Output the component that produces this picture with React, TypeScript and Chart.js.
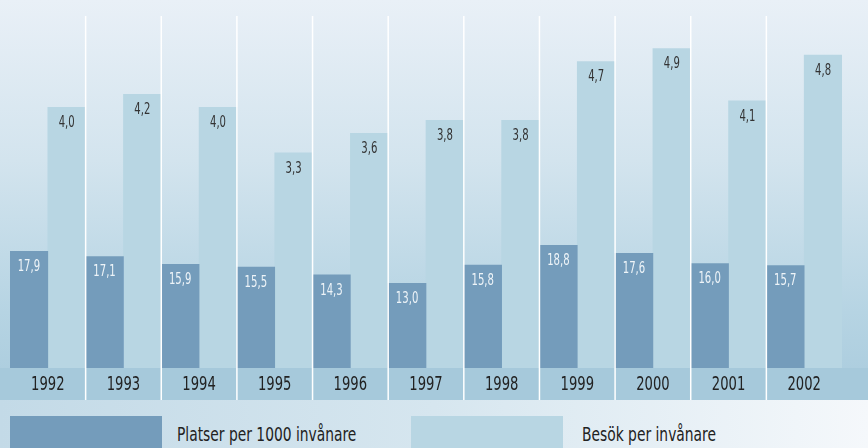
import React, { useEffect, useRef } from "react";
import { Chart, registerables } from "chart.js";

Chart.register(...registerables);

const years = ["1992", "1993", "1994", "1995", "1996", "1997", "1998", "1999", "2000", "2001", "2002"];
const platser = [17.9, 17.1, 15.9, 15.5, 14.3, 13.0, 15.8, 18.8, 17.6, 16.0, 15.7];
const besok = [4.0, 4.2, 4.0, 3.3, 3.6, 3.8, 3.8, 4.7, 4.9, 4.1, 4.8];
const seriesNames = ["Platser per 1000 invånare", "Besök per invånare"];

const FONT = "'DejaVu Sans Condensed', 'Liberation Sans Narrow', 'DejaVu Sans', sans-serif";
const DARK = "#749cbb";
const LIGHT = "#b8d6e3";
const BAND = "#a6c9db";
const BAND_H = 32;

function squeezedText(ctx: CanvasRenderingContext2D, text: string, x: number, y: number, sx: number) {
  ctx.save();
  ctx.translate(x, y);
  ctx.scale(sx, 1);
  ctx.fillText(text, 0, 0);
  ctx.restore();
}

const bandPlugin = {
  id: "band",
  beforeDraw(chart: any) {
    const { ctx, chartArea } = chart;
    ctx.save();
    ctx.fillStyle = BAND;
    ctx.fillRect(0, chartArea.bottom, chart.width, BAND_H);
    ctx.restore();
  },
  afterDatasetsDraw(chart: any) {
    const { ctx, chartArea } = chart;
    const x = chart.scales.x;
    ctx.save();
    // category separators
    ctx.strokeStyle = "#ffffff";
    ctx.lineWidth = 1.5;
    for (let i = 1; i < years.length; i++) {
      const px = (x.getPixelForValue(i - 1) + x.getPixelForValue(i)) / 2;
      ctx.beginPath();
      ctx.moveTo(px, chartArea.top);
      ctx.lineTo(px, chartArea.bottom + BAND_H);
      ctx.stroke();
    }
    // category labels
    ctx.textAlign = "center";
    ctx.textBaseline = "middle";
    ctx.font = `19px ${FONT}`;
    ctx.fillStyle = "#222222";
    years.forEach((lab, i) => {
      squeezedText(ctx, lab, x.getPixelForValue(i), chartArea.bottom + 17, 0.77);
    });
    // value labels
    ctx.font = `16.5px ${FONT}`;
    chart.data.datasets.forEach((ds: any, di: number) => {
      const meta = chart.getDatasetMeta(di);
      ctx.fillStyle = di === 0 ? "#eef4f8" : "#333333";
      meta.data.forEach((bar: any, i: number) => {
        const v = ds.data[i] as number;
        squeezedText(ctx, v.toFixed(1).replace(".", ","), bar.x, bar.y + 15.5, 0.68);
      });
    });
    ctx.restore();
  },
};

export default function App() {
  const ref = useRef<HTMLCanvasElement>(null);
  useEffect(() => {
    if (!ref.current) return;
    const chart = new Chart(ref.current, {
      type: "bar",
      data: {
        labels: years,
        datasets: [
          {
            label: seriesNames[0],
            data: platser,
            backgroundColor: DARK,
            yAxisID: "y",
            categoryPercentage: 1,
            barPercentage: 1,
          },
          {
            label: seriesNames[1],
            data: besok,
            backgroundColor: LIGHT,
            yAxisID: "y1",
            categoryPercentage: 1,
            barPercentage: 1,
          },
        ],
      },
      options: {
        responsive: false,
        animation: false,
        layout: { padding: { left: 10, right: 26, top: 16, bottom: BAND_H } },
        plugins: { legend: { display: false }, tooltip: { enabled: false }, title: { display: false } },
        scales: {
          x: { display: false },
          y: { display: false, min: 0, max: 54 },
          y1: { display: false, min: 0, max: 5.4 },
        },
      },
      plugins: [bandPlugin],
    });
    return () => chart.destroy();
  }, []);

  const legendText: React.CSSProperties = {
    position: "absolute",
    top: 416,
    height: 36,
    lineHeight: "36px",
    fontFamily: FONT,
    fontSize: 19,
    color: "#222",
    whiteSpace: "nowrap",
    transform: "scaleX(0.81)",
    transformOrigin: "left center",
  };

  return (
    <div style={{ position: "fixed", left: 0, top: 0, width: 868, height: 448, overflow: "hidden" }}>
      <div
        style={{
          position: "absolute",
          left: 0,
          top: 0,
          width: 868,
          height: 400,
          background: "linear-gradient(to bottom, #e9f0f7 0%, #d3e4ee 40%, #b6d4e3 78%, #a9cbdd 100%)",
        }}
      />
      <div
        style={{
          position: "absolute",
          left: 0,
          top: 400,
          width: 868,
          height: 48,
          background: "linear-gradient(to right, #c3dae7 0%, #d6e6ef 50%, #f5f8fb 100%)",
        }}
      />
      <div style={{ position: "absolute", left: 10, top: 416, width: 152, height: 32, background: DARK }} />
      <div style={{ ...legendText, left: 177 }}>{seriesNames[0]}</div>
      <div style={{ position: "absolute", left: 411, top: 416, width: 152, height: 32, background: LIGHT }} />
      <div style={{ ...legendText, left: 582 }}>{seriesNames[1]}</div>
      <canvas ref={ref} width={868} height={400} style={{ position: "absolute", left: 0, top: 0 }} />
    </div>
  );
}
